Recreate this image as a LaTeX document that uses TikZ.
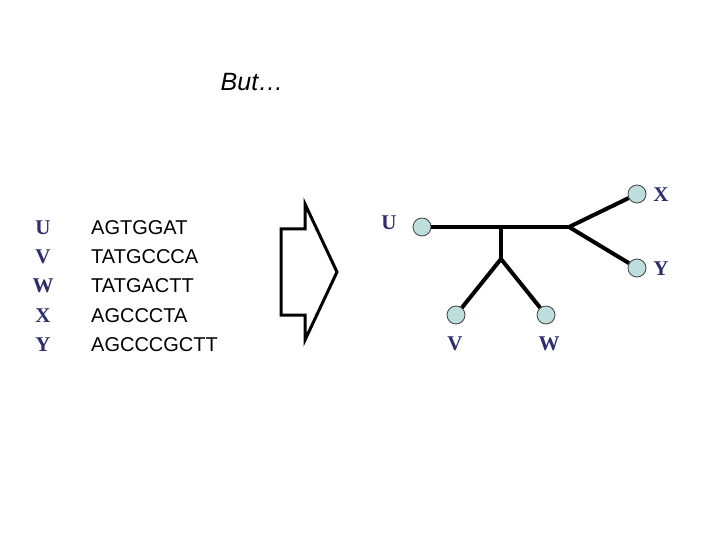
\documentclass[tikz,border=0pt]{standalone}
\usepackage{fontspec}
\setmainfont{Liberation Serif}
\newfontfamily\arialf{Liberation Sans}
\definecolor{lblblue}{RGB}{45,45,110}
\definecolor{leaffill}{RGB}{190,222,222}
\tikzset{
  seq/.style={font=\arialf\fontsize{20}{24}\selectfont, anchor=west, inner sep=0pt},
  tax/.style={font=\bfseries\fontsize{21}{24}\selectfont, text=lblblue, inner sep=0pt},
  leaf/.style={circle, draw=black!75, fill=leaffill, minimum size=18pt, inner sep=0pt, line width=0.8pt},
  edge/.style={line width=4pt},
}
\begin{document}
\begin{tikzpicture}[x=1pt,y=-1pt]
\useasboundingbox (0,0) rectangle (720,540);
\node[font=\arialf\itshape\fontsize{25}{28}\selectfont, inner sep=0pt] (but) at (252,82) {But…};
% taxa list
\foreach \n/\s/\y in {U/AGTGGAT/228, V/TATGCCCA/257, W/TATGACTT/286, X/AGCCCTA/316, Y/AGCCCGCTT/345}{
  \node[tax] (l\n) at (43,\y) {\n};
  \node[seq] (s\n) at (91,\y) {\s};
}
% arrow
\draw[line width=3pt, line join=miter] (281,229) -- (305,229) -- (305,204) -- (337,272) -- (305,340) -- (305,315) -- (281,315) -- cycle;
% tree
\coordinate (j1) at (501,227);
\coordinate (j2) at (569,227);
\coordinate (j3) at (501,259);
\node[leaf] (U) at (422,227) {};
\node[leaf] (V) at (456,315) {};
\node[leaf] (W) at (546,315) {};
\node[leaf] (X) at (637,194) {};
\node[leaf] (Y) at (637,268) {};
\draw[edge] (U) -- (j1) -- (j2);
\draw[edge] (j1) -- (j3);
\draw[edge] (j3) -- (V);
\draw[edge] (j3) -- (W);
\draw[edge] (j2) -- (X);
\draw[edge] (j2) -- (Y);
\node[tax] (tU) at (389,223) {U};
\node[tax] (tV) at (455,344) {V};
\node[tax] (tW) at (549,344) {W};
\node[tax] (tX) at (661,195) {X};
\node[tax] (tY) at (661,269) {Y};
\end{tikzpicture}
\end{document}
